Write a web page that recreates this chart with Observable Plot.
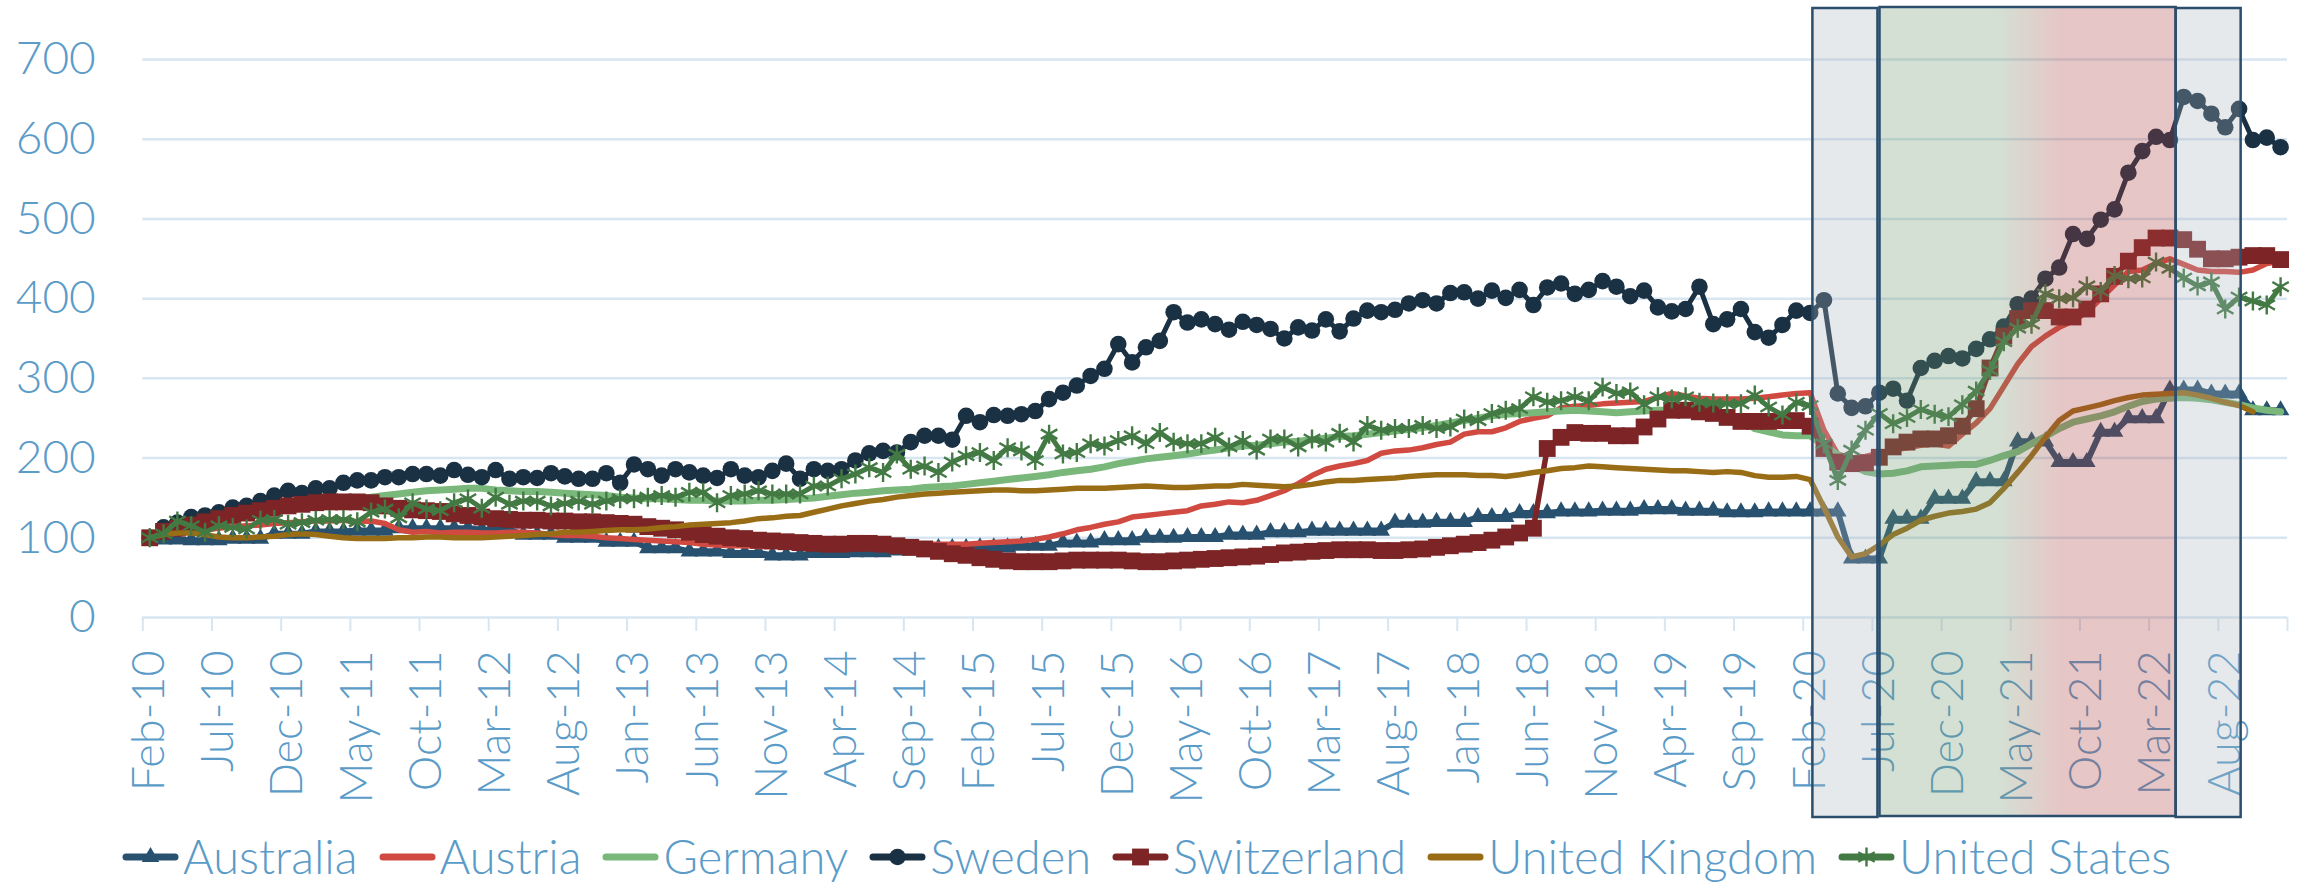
<!DOCTYPE html>
<html>
<head>
<meta charset="utf-8">
<script src="https://cdn.jsdelivr.net/npm/d3@7"></script>
<script src="https://cdn.jsdelivr.net/npm/@observablehq/plot@0.6"></script>
<style>
  html, body { margin: 0; padding: 0; background: #ffffff; }
  #legend { display: flex; align-items: center; height: 59px; line-height: 59px; padding-left: 122px;
            font-family: Lato, "Open Sans", sans-serif; font-weight: 300; font-size: 47px; color: #5b9bc8; white-space: nowrap; }
  #legend .item { display: flex; align-items: center; margin-right: 21px; }
  #legend .item svg { margin-right: 4px; }
</style>
</head>
<body>
<div id="chart"></div>
<div id="legend"></div>
<script>
// ---------- categories (monthly, Feb-10 .. Dec-22) ----------
const startMonth = new Date(Date.UTC(2010, 1, 1));
const monthCount = 155;
const months = d3.range(monthCount).map(i => d3.utcFormat("%b-%y")(d3.utcMonth.offset(startMonth, i)));
const labelIdx = d3.range(0, monthCount, 5);            // Feb-10, Jul-10, ... Aug-22
const tickBounds = d3.range(0, monthCount + 1, 5).map(i => i - 0.5);
const yTicks = [0, 100, 200, 300, 400, 500, 600, 700];

// ---------- series values (index, Feb-10 = 100) ----------
const australia = [
  100,98,98, 97,97,97, 99,99,99, 105,105,105, 108,108,108, 109,109,109, 112,112,112, 112,112,112,
  110,110,110, 104,104,104, 100,100,100, 95,95,95, 87,87,87, 83,83,83, 81,81,81, 78,78,78,
  81,81,81, 82,82,82, 84,84,84, 87,87,87, 88,88,88, 90,90,90, 94,94,94, 97,97,97,
  100,100,100, 101,101,101, 104,104,104, 107,107,107, 109,109,109, 109,109,109, 119,119,119, 120,120,120,
  126,126,126, 131,131,131, 133,133,133, 134,134,134, 136,136,136, 134,134,134, 132,132,132, 133,133,133,
  133,133,133, 74,74,74, 124,124,124, 149,149,149, 171,171,171, 221,221,221, 195,195,195,
  233,233, 250,250,250, 286,286,286, 281,281,281, 260,260,260
];
const austria = [
  100,106,112,113,110,112,114,115,116,118,119,120,121,121,122,120,121,118,110,107,108,106,107,107,106,106,
  107,107,106,104,103,103,102,100,99,98,97,96,95,94,92,91,90,90,89,89,89,88,88,88,89,90,
  91,91,92,92,92,92,92,92,93,94,95,96,98,101,105,110,113,117,120,126,128,130,132,134,140,142,
  145,144,147,153,159,168,178,186,190,193,197,206,209,210,213,217,220,230,233,233,238,246,250,253,263,265,
  266,268,269,270,271,276,281,278,275,274,274,274,275,277,279,281,282,235,205,200,202,206,210,213,216,
  218,215,230,244,262,290,318,340,353,364,372,383,400,417,434,436,444,450,443,436,434,434,433,436,444,447
];
const germany = [
  100,104,108,113,118,122,127,131,135,138,140,143,145,146,148,149,151,153,155,157,159,160,161,162,162,160,
  159,158,158,157,156,155,154,153,151,150,149,149,148,147,147,146,146,146,147,147,148,149,150,152,154,156,
  157,159,160,161,163,164,165,167,169,171,173,175,177,179,182,184,186,189,193,196,199,201,203,205,208,210,
  213,215,216,218,220,221,223,225,227,228,230,232,234,236,238,241,244,247,250,253,255,256,257,258,259,260,
  259,258,257,258,259,260,260,258,257,256,254,250,237,233,229,228,228,216,204,192,183,180,181,184,189,
  190,191,192,192,197,203,208,218,227,237,245,249,253,258,265,271,274,275,276,275,273,270,267,263,260,258
];
const sweden = [
  100,113,119,126,128,132,138,140,146,153,159,156,162,162,169,172,172,176,176,180,180,178,185,179,176,185,
  174,176,175,181,177,174,174,181,169,192,186,178,186,182,178,175,186,178,176,184,193,174,186,184,186,197,
  206,209,207,220,228,228,223,253,245,254,253,255,259,274,282,291,303,312,343,320,339,347,383,370,374,368,
  361,371,367,362,350,364,360,374,359,375,385,383,386,394,398,394,407,408,400,410,401,411,392,414,419,406,
  411,422,415,403,410,389,384,387,415,368,374,387,358,351,367,385,382,398,281,263,265,282,287,272,313,
  322,328,325,337,349,365,393,400,425,439,481,475,499,512,558,585,603,599,653,648,632,615,638,599,602,590
];
const switzerland = [
  100,108,112,116,120,124,128,131,134,137,140,142,144,145,145,145,144,140,137,135,134,133,130,128,126,124,
  123,122,122,121,121,120,120,119,118,117,114,112,110,107,104,102,100,99,97,96,95,94,93,92,92,93,
  93,92,90,88,86,83,80,78,75,73,71,70,70,70,71,72,72,72,72,71,70,70,71,72,73,74,
  75,76,77,79,81,82,83,84,85,85,85,84,84,85,86,88,90,92,94,97,101,106,112,212,226,232,
  231,231,228,228,239,249,260,260,258,256,251,246,246,246,247,247,240,212,195,193,194,201,214,220,224,
  224,228,240,262,313,353,375,385,385,377,377,387,406,428,447,464,476,476,474,462,450,450,452,454,454,449
];
const unitedKingdom = [
  100,104,106,106,104,101,100,100,101,102,104,105,104,102,100,99,99,99,100,100,101,101,100,100,100,101,
  102,103,104,105,107,107,108,109,110,110,111,113,114,116,117,118,119,121,124,125,127,128,132,136,140,143,
  146,148,151,153,155,156,157,158,159,160,160,159,159,160,161,162,162,162,163,164,165,164,163,163,164,165,
  165,167,166,165,164,165,167,170,172,172,173,174,175,177,178,179,179,179,178,178,177,179,182,184,187,188,
  190,189,188,187,186,185,184,184,183,182,183,182,178,176,176,177,173,138,101,76,80,91,104,112,122,
  127,131,133,136,144,162,182,203,226,247,259,263,267,272,276,279,280,281,282,279,275,270,266,258,null,null
];
const unitedStates = [
  100,105,121,115,107,115,113,111,122,123,117,119,122,123,123,120,132,136,125,144,136,134,144,149,137,151,
  142,146,146,140,143,146,142,146,149,149,151,153,151,157,157,144,153,155,159,155,155,155,165,165,174,180,
  188,182,205,186,190,182,195,203,207,197,213,209,197,230,205,207,218,215,222,228,218,232,220,218,218,226,
  214,222,210,224,224,214,224,220,231,220,241,235,237,237,241,237,239,249,247,256,260,262,277,270,272,277,
  272,289,281,283,267,277,274,277,270,269,268,268,279,264,254,270,266,218,172,210,235,256,243,251,261,
  255,252,267,284,310,346,363,368,406,400,401,416,409,429,425,426,446,438,426,416,421,387,402,397,392,415
];

// highlighted periods (month index units)
const grayPeriods = [{start: 120.2, end: 124.9}, {start: 146.45, end: 151.15}];
const recoveryPeriods = [{start: 125.05, end: 146.45}];

// ---------- series styling table ----------
const series = [
  {name: "Australia", values: australia, color: "#28516f", width: 6, symbol: "triangle", r: 6.5},
  {name: "Austria", values: austria, color: "#d14a42", width: 5.5},
  {name: "Germany", values: germany, color: "#7ab77b", width: 7},
  {name: "Sweden", values: sweden, color: "#1a3043", width: 5, symbol: "circle", r: 8.3},
  {name: "Switzerland", values: switzerland, color: "#7d2526", width: 5.5, symbol: "square", r: 9.5},
  {name: "United Kingdom", values: unitedKingdom, color: "#996c16", width: 5.5},
  {name: "United States", values: unitedStates, color: "#437a44", width: 5, symbol: "asterisk", r: 9}
];

const gridColor = "#d8e6f1";
const textColor = "#5b9bc8";

const seriesMarks = series.flatMap(s => {
  const rows = s.values.map((v, i) => ({i, v})).filter(d => d.v != null);
  const m = [Plot.line(rows, {x: "i", y: "v", stroke: s.color, strokeWidth: s.width, strokeLinejoin: "round", strokeLinecap: "round"})];
  if (s.symbol === "asterisk") {
    m.push(Plot.dot(rows, {x: "i", y: "v", symbol: "asterisk", r: s.r, stroke: s.color, strokeWidth: 2.4, fill: "none"}));
  } else if (s.symbol) {
    m.push(Plot.dot(rows, {x: "i", y: "v", symbol: s.symbol, r: s.r, fill: s.color, stroke: "none"}));
  }
  return m;
});

const chart = Plot.plot({
  width: 2297,
  height: 827,
  marginLeft: 142.3,
  marginRight: 10,
  marginTop: 59,
  marginBottom: 210,
  style: {fontFamily: "Lato, 'Open Sans', sans-serif", color: textColor, background: "#ffffff"},
  x: {type: "linear", domain: [-0.5, monthCount - 0.5], axis: null},
  y: {domain: [0, 700], axis: null},
  marks: [
    Plot.ruleY(yTicks.slice(1), {stroke: gridColor, strokeWidth: 2.5}),
    Plot.ruleY([0], {stroke: gridColor, strokeWidth: 2.5}),
    Plot.ruleX(tickBounds, {x: d => d, y1: 0, y2: 0, insetBottom: -14, stroke: gridColor, strokeWidth: 2}),
    Plot.axisY({ticks: yTicks, tickSize: 0, tickPadding: 47, fontSize: 46, fontWeight: 300, label: null}),
    Plot.text(labelIdx, {x: d => d, frameAnchor: "bottom", text: d => months[d], rotate: -90,
                         textAnchor: "end", lineAnchor: "middle", dy: 33, fontSize: 45, fontWeight: 300, fill: textColor}),
    ...seriesMarks,
    Plot.rect(grayPeriods, {x1: "start", x2: "end", insetTop: -51, insetBottom: -200,
                            fill: "rgb(168,182,192)", fillOpacity: 0.3, stroke: "#2b4e6d", strokeWidth: 2.5}),
    Plot.rect(recoveryPeriods, {x1: "start", x2: "end", insetTop: -52, insetBottom: -199,
                                fill: "url(#recoveryGrad)", fillOpacity: 0.3, stroke: "#2b4e6d", strokeWidth: 2.5})
  ]
});

d3.select(chart).insert("defs", ":first-child").html(
  '<linearGradient id="recoveryGrad" x1="0" x2="1" y1="0" y2="0">' +
  '<stop offset="0" stop-color="rgb(112,152,112)"/>' +
  '<stop offset="0.4" stop-color="rgb(112,152,112)"/>' +
  '<stop offset="0.62" stop-color="rgb(172,65,65)"/>' +
  '<stop offset="1" stop-color="rgb(172,65,65)"/>' +
  '</linearGradient>');

document.getElementById("chart").appendChild(chart);

// ---------- legend ----------
const legend = d3.select("#legend");
for (const s of series) {
  const item = legend.append("div").attr("class", "item");
  const sw = item.append("svg").attr("width", 57).attr("height", 24);
  sw.append("line").attr("x1", 4).attr("x2", 53).attr("y1", 12).attr("y2", 12)
    .attr("stroke", s.color).attr("stroke-width", 7).attr("stroke-linecap", "round");
  if (s.symbol) {
    const sym = {triangle: d3.symbolTriangle, circle: d3.symbolCircle, square: d3.symbolSquare, asterisk: d3.symbolAsterisk}[s.symbol];
    const path = d3.symbol(sym, Math.PI * s.r * s.r)();
    const p = sw.append("path").attr("d", path).attr("transform", "translate(28.5,12)");
    if (s.symbol === "asterisk") p.attr("fill", "none").attr("stroke", s.color).attr("stroke-width", 2.4);
    else p.attr("fill", s.color);
  }
  item.append("span").text(s.name);
}
</script>
</body>
</html>
